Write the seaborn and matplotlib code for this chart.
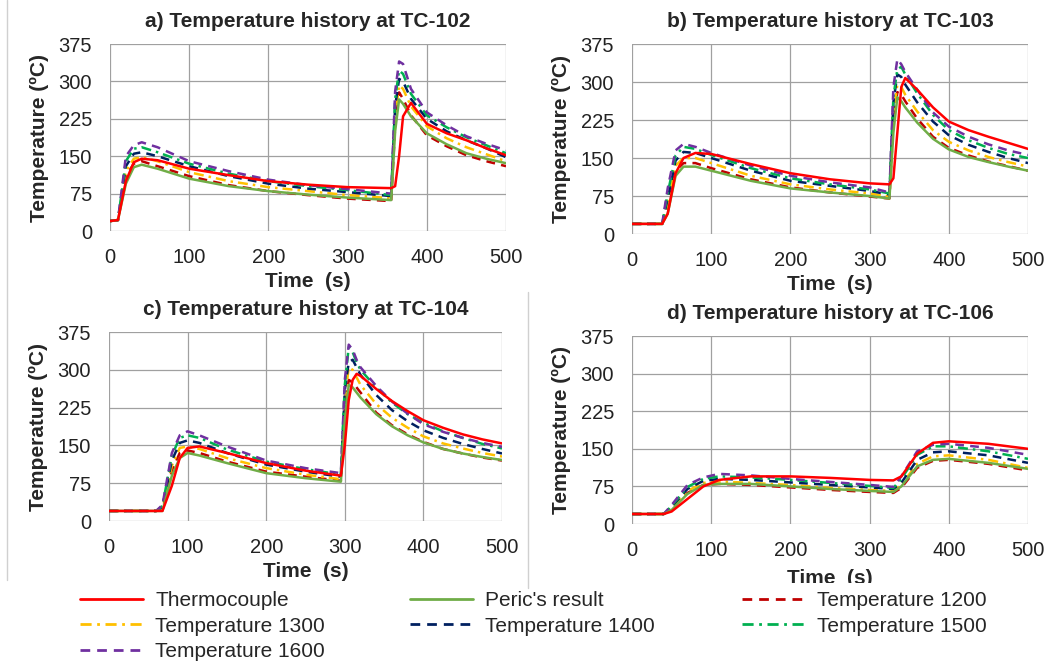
import matplotlib
matplotlib.use("Agg")
import matplotlib.pyplot as plt
from matplotlib.lines import Line2D
from matplotlib.patches import Rectangle
import seaborn as sns

sns.set_style("white")
plt.rcParams['font.family'] = ['Liberation Sans', 'DejaVu Sans']

# Series names and styles
series = ["Thermocouple", "Peric's result", "Temperature 1200", "Temperature 1300",
          "Temperature 1400", "Temperature 1500", "Temperature 1600"]
colors = ["#FF0000", "#70AD47", "#C00000", "#FFC000", "#002060", "#00B050", "#7030A0"]
styles = ["-", "-", (0, (3.5, 2.5)), (0, (4, 2, 1, 2)), (0, (3.5, 2.5)), (0, (4, 2, 1, 2)),
          (0, (3.5, 2.5))]

# a) TC-102
t_a = [0, 10, 20, 30, 40, 60, 100, 150, 200, 250, 300, 355, 360, 365, 370, 380,
       400, 425, 450, 475, 500]
a_vals = [
    [20, 22, 100, 138, 145, 142, 125, 112, 100, 93, 88, 86, 90, 150, 230, 257, 215, 196, 182, 166, 152],
    [20, 22, 95, 128, 133, 125, 105, 90, 80, 73, 67, 62, 200, 264, 255, 230, 196, 174, 156, 145, 136],
    [20, 22, 110, 135, 140, 130, 110, 92, 80, 72, 65, 60, 210, 278, 265, 232, 192, 170, 152, 140, 130],
    [20, 22, 120, 145, 148, 140, 118, 100, 88, 80, 72, 66, 230, 292, 285, 250, 210, 186, 168, 154, 140],
    [20, 22, 130, 155, 158, 150, 130, 110, 95, 85, 78, 70, 250, 305, 300, 265, 225, 200, 182, 166, 148],
    [20, 22, 140, 165, 168, 158, 135, 115, 100, 90, 82, 72, 265, 322, 315, 275, 232, 208, 188, 172, 156],
    [20, 22, 150, 172, 178, 168, 140, 120, 103, 92, 84, 75, 280, 340, 335, 285, 238, 212, 190, 175, 162],
]

# b) TC-103
t_b = [0, 38, 45, 55, 65, 80, 100, 150, 200, 250, 300, 325, 330, 335, 340, 345,
       360, 380, 400, 425, 450, 475, 500]
b_vals = [
    [20, 20, 40, 120, 150, 160, 158, 138, 120, 108, 100, 98, 110, 200, 290, 308, 285, 250, 222, 205, 192, 180, 168],
    [20, 20, 40, 115, 133, 133, 125, 105, 90, 82, 75, 70, 200, 270, 262, 250, 220, 188, 167, 152, 142, 133, 125],
    [20, 20, 50, 125, 140, 140, 130, 108, 92, 82, 74, 70, 220, 280, 275, 262, 228, 192, 170, 155, 143, 134, 125],
    [20, 20, 60, 135, 150, 150, 140, 115, 98, 88, 80, 74, 240, 295, 290, 275, 242, 205, 182, 165, 152, 142, 133],
    [20, 20, 70, 145, 162, 160, 150, 125, 105, 95, 85, 78, 260, 315, 310, 295, 260, 222, 195, 176, 162, 150, 140],
    [20, 20, 80, 155, 172, 168, 156, 130, 110, 98, 88, 80, 270, 325, 330, 315, 278, 235, 205, 185, 170, 158, 150],
    [20, 20, 90, 165, 178, 172, 160, 135, 115, 102, 92, 82, 290, 345, 335, 320, 285, 240, 212, 192, 177, 165, 156],
]

# c) TC-104
t_c = [0, 60, 68, 80, 90, 100, 115, 150, 200, 250, 295, 300, 305, 310, 315, 320,
       340, 360, 380, 400, 425, 450, 475, 500]
c_vals = [
    [20, 20, 20, 70, 125, 145, 148, 135, 115, 100, 90, 150, 240, 280, 292, 288, 262, 238, 218, 200, 185, 172, 162, 154],
    [20, 20, 20, 90, 125, 135, 130, 115, 95, 85, 78, 200, 270, 265, 255, 245, 212, 188, 170, 156, 143, 134, 127, 121],
    [20, 20, 22, 100, 135, 140, 135, 118, 98, 88, 80, 220, 280, 275, 265, 255, 215, 190, 172, 157, 143, 134, 126, 120],
    [20, 20, 25, 110, 145, 148, 143, 125, 105, 92, 83, 240, 305, 300, 285, 270, 232, 205, 185, 168, 154, 144, 135, 128],
    [20, 20, 28, 120, 155, 160, 155, 135, 112, 98, 88, 260, 315, 320, 305, 290, 250, 220, 198, 180, 165, 153, 143, 134],
    [20, 20, 30, 130, 165, 170, 165, 142, 118, 103, 92, 270, 345, 335, 315, 300, 265, 235, 212, 195, 178, 165, 153, 144],
    [20, 20, 32, 135, 170, 178, 170, 148, 120, 105, 95, 280, 350, 340, 320, 305, 268, 237, 213, 192, 177, 165, 155, 147],
]

# d) TC-106
t_d = [0, 40, 50, 70, 90, 110, 150, 200, 250, 300, 330, 340, 360, 380, 400, 450, 500]
d_vals = [
    [20, 20, 25, 50, 75, 88, 95, 95, 92, 88, 87, 95, 140, 162, 165, 160, 150],
    [20, 20, 28, 60, 78, 80, 80, 75, 70, 66, 64, 75, 115, 128, 130, 122, 110],
    [20, 20, 30, 62, 78, 80, 78, 73, 68, 64, 62, 72, 112, 126, 128, 120, 107],
    [20, 20, 32, 66, 82, 85, 82, 78, 72, 68, 66, 78, 120, 135, 137, 128, 112],
    [20, 20, 34, 70, 86, 90, 88, 83, 78, 73, 70, 82, 128, 143, 145, 137, 122],
    [20, 20, 36, 74, 90, 95, 93, 88, 82, 76, 72, 90, 138, 155, 155, 145, 130],
    [20, 20, 38, 78, 93, 100, 97, 90, 84, 78, 74, 95, 145, 158, 160, 152, 138],
]

panels = [
    ("a) Temperature history at TC-102", t_a, a_vals, [0.1046, 0.6526, 0.3764, 0.2812], 4),
    ("b) Temperature history at TC-103", t_b, b_vals, [0.6008, 0.6481, 0.3764, 0.2857], 4),
    ("c) Temperature history at TC-104", t_c, c_vals, [0.1036, 0.2165, 0.3736, 0.2842], 4),
    ("d) Temperature history at TC-106", t_d, d_vals, [0.6008, 0.2120, 0.3764, 0.2827], 7),
]

fig = plt.figure(figsize=(10.52, 6.65), dpi=100)

for title, t, vals, pos, xpad in panels:
    ax = fig.add_axes(pos)
    # simulated curves first, measured/reference on top
    order = [2, 3, 4, 5, 6, 1, 0]
    for i in order:
        sns.lineplot(x=t, y=vals[i], ax=ax, color=colors[i], linestyle=styles[i],
                     linewidth=1.8, sort=False)
    ax.set_xlim(0, 500)
    ax.set_ylim(0, 375)
    ax.set_xticks([0, 100, 200, 300, 400, 500])
    ax.set_yticks([0, 75, 150, 225, 300, 375])
    ax.grid(True, color="#A0A0A0", linewidth=0.9)
    for s in ax.spines.values():
        s.set_visible(False)
    ax.tick_params(axis='both', length=0, labelsize=14.5, labelcolor="#222222")
    ax.tick_params(axis='y', pad=13)
    ax.tick_params(axis='x', pad=12)
    ax.set_title(title, fontsize=15, fontweight='bold', pad=12)
    ax.set_xlabel("Time  (s)", fontsize=15, fontweight='bold', labelpad=xpad)
    ax.set_ylabel("Temperature (ºC)", fontsize=15, fontweight='bold', labelpad=7)

# white legend area covering the bottom of the lower panels
fig.patches.append(Rectangle((0, 0), 1, 1 - 583 / 665, transform=fig.transFigure,
                             facecolor="white", edgecolor="none", zorder=1))
# thin frame lines between the pasted panels
fig.add_artist(Line2D([7 / 1052, 7 / 1052], [1 - 580 / 665, 1], transform=fig.transFigure,
                      color="#D0D0D0", linewidth=1))
fig.add_artist(Line2D([528 / 1052, 528 / 1052], [1 - 588 / 665, 1 - 292 / 665],
                      transform=fig.transFigure, color="#D0D0D0", linewidth=1))

handles = [Line2D([], [], color=c, linestyle=ls, linewidth=2) for c, ls in zip(colors, styles)]
columns = [([0, 3, 6], 80), ([1, 4], 410), ([2, 5], 742)]
for idx, xpix in columns:
    fig.legend([handles[i] for i in idx], [series[i] for i in idx],
               loc='upper left', bbox_to_anchor=(xpix / 1052, 1 - 591 / 665), ncol=1,
               frameon=False, borderpad=0, borderaxespad=0, handlelength=3.0,
               handletextpad=0.6, labelspacing=0.32, fontsize=15)

fig.savefig("out.png", dpi=100)
